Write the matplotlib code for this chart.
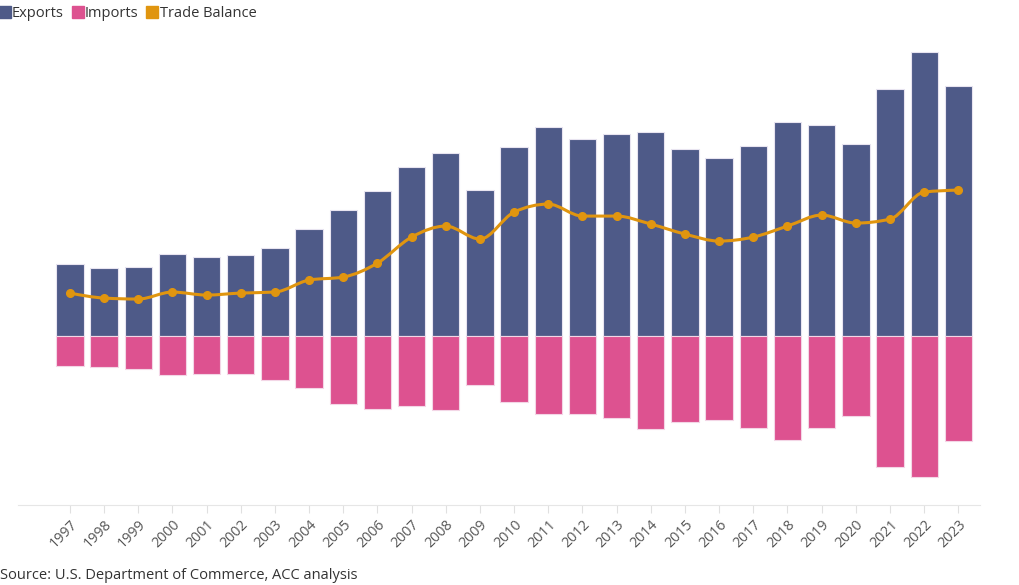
import numpy as np
import matplotlib.pyplot as plt
from matplotlib.path import Path
from matplotlib.patches import PathPatch
from matplotlib.lines import Line2D

# values (arbitrary units, imports shown below zero)
years = [str(y) for y in range(1997, 2024)]
exports = [72, 68, 69, 82, 79, 81, 88, 107, 126, 145, 169, 183, 146, 189, 209,
           197, 202, 204, 187, 178, 190, 214, 211, 192, 247, 284, 250]
imports = [30, 31, 33, 39, 38, 38, 44, 52, 68, 73, 70, 74, 49, 66, 78,
           78, 82, 93, 86, 84, 92, 104, 92, 80, 131, 141, 105]
balance = [43, 38, 37, 44, 41, 43, 44, 56, 59, 73, 99, 110, 97, 124, 132,
           120, 120, 112, 102, 95, 99, 110, 121, 113, 117, 144, 146]

c_exp = '#4e5a88'
c_imp = '#dd5290'
c_bal = '#e0950f'

plt.rcParams['font.family'] = ['Open Sans', 'DejaVu Sans']


def monotone_path(x, y):
    # monotone cubic curve through the points, as bezier segments
    x = np.asarray(x, float)
    y = np.asarray(y, float)
    h = np.diff(x)
    s = np.diff(y) / h
    t = np.zeros(len(x))
    for i in range(1, len(x) - 1):
        if s[i - 1] * s[i] <= 0:
            t[i] = 0
        else:
            p = (s[i - 1] * h[i] + s[i] * h[i - 1]) / (h[i - 1] + h[i])
            t[i] = (np.sign(s[i - 1]) + np.sign(s[i])) * min(abs(s[i - 1]), abs(s[i]), 0.5 * abs(p))
    t[0] = (3 * s[0] - t[1]) / 2
    t[-1] = (3 * s[-1] - t[-2]) / 2
    verts = [(x[0], y[0])]
    codes = [Path.MOVETO]
    for i in range(len(x) - 1):
        d = h[i] / 3
        verts += [(x[i] + d, y[i] + d * t[i]), (x[i + 1] - d, y[i + 1] - d * t[i + 1]), (x[i + 1], y[i + 1])]
        codes += [Path.CURVE4] * 3
    return Path(verts, codes)


fig = plt.figure(figsize=(10.2, 5.85), dpi=100)
ax = fig.add_axes([0.0176, 0.1368, 0.9434, 0.8202])

x = np.arange(len(years))
ax.bar(x, exports, width=0.8, color=c_exp, edgecolor='#e8e4f0', linewidth=0.8, zorder=2)
ax.bar(x, [-v for v in imports], width=0.8, color=c_imp, edgecolor='#f3d6e6', linewidth=0.8, zorder=2)

ax.add_patch(PathPatch(monotone_path(x, balance), facecolor='none', edgecolor=c_bal, lw=2.2, zorder=3))
ax.plot(x, balance, 'o', color=c_bal, ms=5.5, zorder=4)

ax.set_xlim(-1.52, 26.64)
ax.set_ylim(-169, 311)
ax.set_yticks([])
ax.set_xticks(x)
ax.set_xticklabels(years, rotation=45, ha='right', rotation_mode='anchor',
                   fontsize=10.3, color='#555555')
ax.tick_params(axis='x', length=6, color='#e0e0e0', pad=3)
for side in ['top', 'right', 'left']:
    ax.spines[side].set_visible(False)
ax.spines['bottom'].set_color('#e6e6e6')

handles = [Line2D([], [], ls='none', marker='s', ms=9, color=c) for c in (c_exp, c_imp, c_bal)]
fig.legend(handles, ['Exports', 'Imports', 'Trade Balance'], loc='upper left',
           bbox_to_anchor=(-0.014, 1.012), ncol=3, frameon=False, fontsize=10.5,
           handlelength=0.8, handletextpad=0.1, columnspacing=0.55, labelcolor='#333333')

fig.text(0.0, 0.004, 'Source: U.S. Department of Commerce, ACC analysis', fontsize=10.5,
         color='#333333', ha='left', va='bottom')

fig.savefig('out.png', dpi=100)
